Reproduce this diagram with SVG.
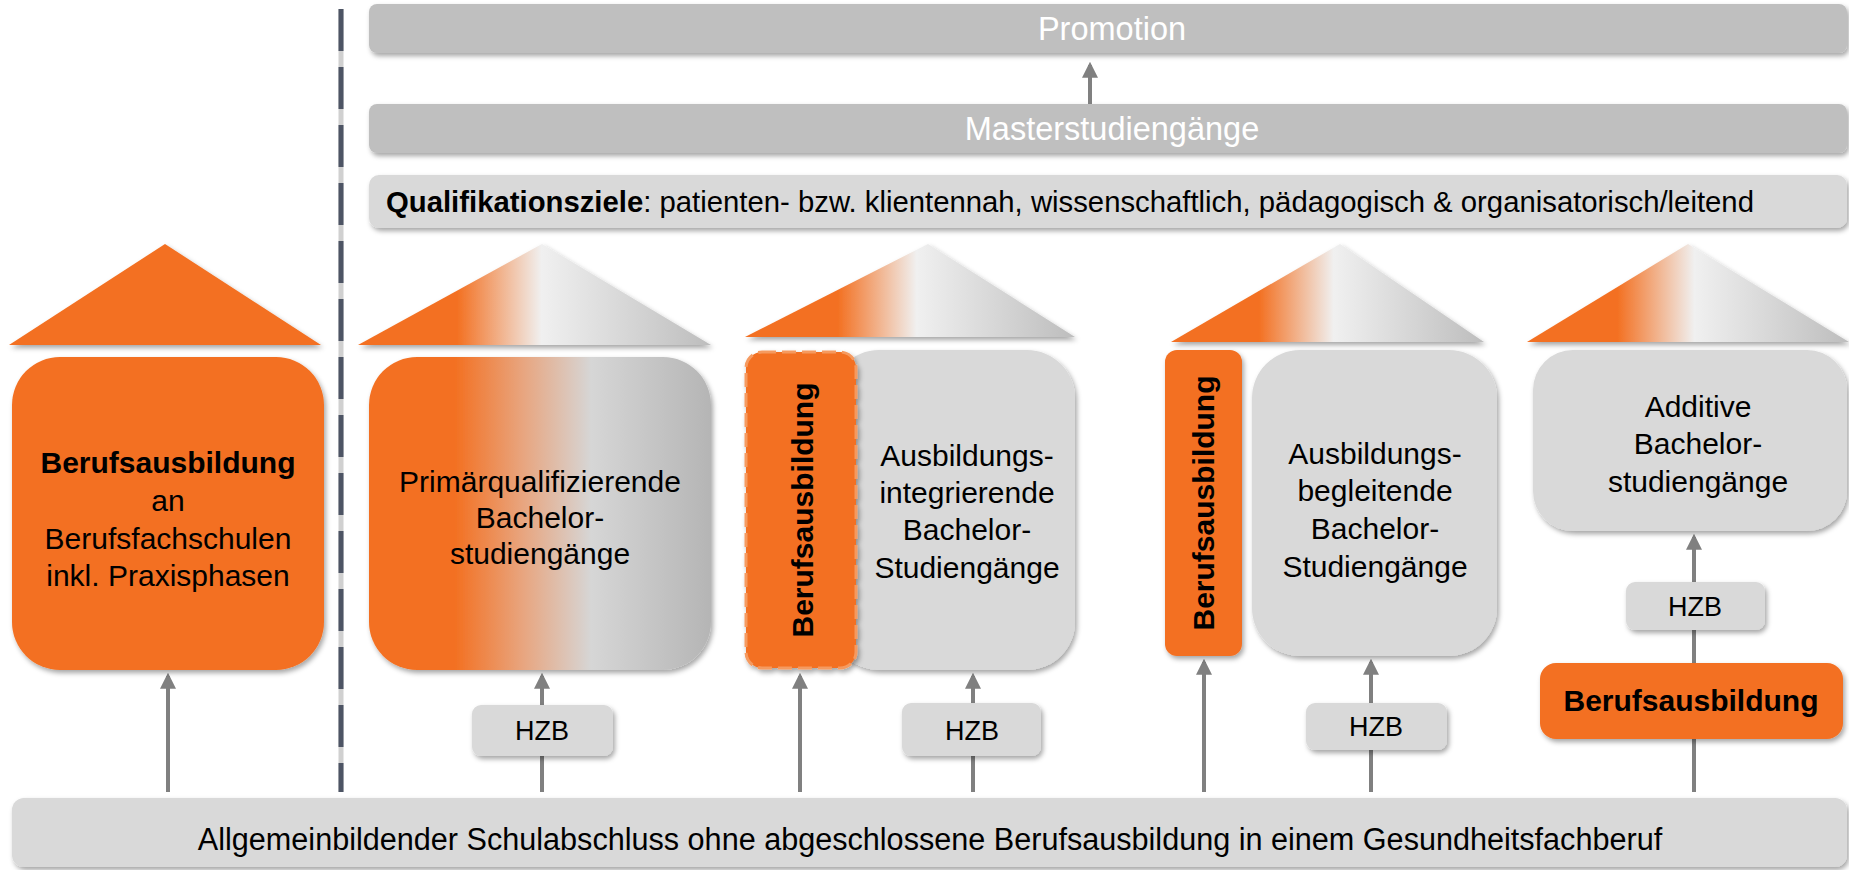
<svg xmlns="http://www.w3.org/2000/svg" width="1849" height="870" viewBox="0 0 1849 870">
<defs>
<style>
text{font-family:"Liberation Sans",Arial,sans-serif;}
.t{font-size:30px;fill:#000;text-anchor:middle;}
.b{font-weight:bold;}
.w{font-size:32.5px;fill:#fff;text-anchor:middle;}
.hzb{font-size:27px;fill:#000;text-anchor:middle;}
.or{fill:#f37021;}
.gr{fill:#d9d9d9;}
.dk{fill:#bfbfbf;}
.arr{stroke:#808080;stroke-width:4;fill:none;marker-end:url(#ah);}
.ln{stroke:#808080;stroke-width:4;fill:none;}
</style>
<filter id="sh" x="-10%" y="-10%" width="120%" height="130%">
<feDropShadow dx="2" dy="3" stdDeviation="2.5" flood-color="#000" flood-opacity="0.35"/>
</filter>
<marker id="ah" markerWidth="4" markerHeight="4" refX="3.2" refY="2" orient="auto" markerUnits="strokeWidth">
<path d="M0,0 L4,2 L0,4 Z" fill="#808080"/>
</marker>
<linearGradient id="tri" x1="0" y1="0" x2="1" y2="0">
<stop offset="0" stop-color="#f37021"/>
<stop offset="0.28" stop-color="#f37021"/>
<stop offset="0.52" stop-color="#f0f0f0"/>
<stop offset="1" stop-color="#bdbdbd"/>
</linearGradient>
<linearGradient id="box2" x1="0" y1="0" x2="1" y2="0">
<stop offset="0" stop-color="#f37021"/>
<stop offset="0.25" stop-color="#f37021"/>
<stop offset="0.45" stop-color="#e8a57f"/>
<stop offset="0.65" stop-color="#d6d6d6"/>
<stop offset="1" stop-color="#b5b5b5"/>
</linearGradient>
</defs>
<rect width="1849" height="870" fill="#fff"/>

<g id="divider">
<line x1="341" y1="9" x2="341" y2="792" stroke="#d0d0d0" stroke-width="5"/>
<line x1="341" y1="9" x2="341" y2="792" stroke="#4d5464" stroke-width="5" stroke-dasharray="42 16"/>
</g>

<g id="promotion">
<rect x="369" y="4" width="1478" height="49" rx="8" class="dk" filter="url(#sh)"/>
<text x="1112" y="40" class="w">Promotion</text>
</g>
<g id="master">
<rect x="369" y="104" width="1478" height="49" rx="8" class="dk" filter="url(#sh)"/>
<text x="1112" y="140" class="w">Masterstudiengänge</text>
</g>
<g id="ziele">
<rect x="369" y="175" width="1478" height="53" rx="10" class="gr" filter="url(#sh)"/>
<text x="386" y="212" style="font-size:29.3px;fill:#000;"><tspan font-weight="bold">Qualifikationsziele</tspan>: patienten- bzw. klientennah, wissenschaftlich, pädagogisch &amp; organisatorisch/leitend</text>
</g>

<g id="roofs">
<polygon points="9,345 165,244 321,345" class="or" filter="url(#sh)"/>
<polygon points="358,345 542,244 711,345" fill="url(#tri)" filter="url(#sh)"/>
<polygon points="745,337 928,244 1075,337" fill="url(#tri)" filter="url(#sh)"/>
<polygon points="1171,342 1340,244 1484,342" fill="url(#tri)" filter="url(#sh)"/>
<polygon points="1527,342 1688,244 1849,342" fill="url(#tri)" filter="url(#sh)"/>
</g>

<g id="base">
<rect x="12" y="798" width="1835" height="69" rx="12" class="gr" filter="url(#sh)"/>
<text x="930" y="850" class="t" style="font-size:30.6px">Allgemeinbildender Schulabschluss ohne abgeschlossene Berufsausbildung in einem Gesundheitsfachberuf</text>
</g>

<g id="connectors">
<line x1="168" y1="792" x2="168" y2="676" class="arr"/>
<line x1="542" y1="792" x2="542" y2="676" class="arr"/>
<line x1="800" y1="792" x2="800" y2="676" class="arr"/>
<line x1="973" y1="792" x2="973" y2="676" class="arr"/>
<line x1="1204" y1="792" x2="1204" y2="662" class="arr"/>
<line x1="1371" y1="792" x2="1371" y2="662" class="arr"/>
<line x1="1694" y1="792" x2="1694" y2="739" class="ln"/>
<line x1="1694" y1="663" x2="1694" y2="537" class="arr"/>
<line x1="1090" y1="104" x2="1090" y2="65" class="arr"/>
</g>

<g id="hzb1">
<rect x="472" y="705" width="141" height="51" rx="9" class="gr" filter="url(#sh)"/>
<text x="542" y="740" class="hzb">HZB</text>
</g>
<g id="hzb2">
<rect x="902" y="703" width="139" height="53" rx="9" class="gr" filter="url(#sh)"/>
<text x="972" y="740" class="hzb">HZB</text>
</g>
<g id="hzb3">
<rect x="1306" y="703" width="141" height="47" rx="9" class="gr" filter="url(#sh)"/>
<text x="1376" y="736" class="hzb">HZB</text>
</g>
<g id="hzb4">
<rect x="1626" y="582" width="139" height="48" rx="9" class="gr" filter="url(#sh)"/>
<text x="1695" y="616" class="hzb">HZB</text>
</g>

<g id="box1">
<rect x="12" y="357" width="312" height="313" rx="48" class="or" filter="url(#sh)"/>
<text class="t"><tspan x="168" y="473" class="b">Berufsausbildung</tspan><tspan x="168" y="511">an</tspan><tspan x="168" y="549">Berufsfachschulen</tspan><tspan x="168" y="586">inkl. Praxisphasen</tspan></text>
</g>

<g id="box2">
<rect x="369" y="357" width="342" height="313" rx="48" fill="url(#box2)" filter="url(#sh)"/>
<text class="t"><tspan x="540" y="492">Primärqualifizierende</tspan><tspan x="540" y="528">Bachelor-</tspan><tspan x="540" y="564">studiengänge</tspan></text>
</g>

<g id="box3">
<rect x="831" y="350" width="244" height="320" rx="48" class="gr" filter="url(#sh)"/>
<text class="t"><tspan x="967" y="466">Ausbildungs-</tspan><tspan x="967" y="503">integrierende</tspan><tspan x="967" y="540">Bachelor-</tspan><tspan x="967" y="578">Studiengänge</tspan></text>
</g>
<g id="box3a">
<rect x="746" y="352" width="110" height="316" rx="16" class="or" stroke="#f59a60" stroke-width="3" stroke-dasharray="14 6" filter="url(#sh)"/>
<text class="t b" transform="translate(813,510) rotate(-90)" x="0" y="0">Berufsausbildung</text>
</g>

<g id="box4a">
<rect x="1165" y="350" width="77" height="306" rx="12" class="or" filter="url(#sh)"/>
<text class="t b" transform="translate(1214,503) rotate(-90)" x="0" y="0">Berufsausbildung</text>
</g>
<g id="box4">
<rect x="1252" y="350" width="245" height="306" rx="48" class="gr" filter="url(#sh)"/>
<text class="t"><tspan x="1375" y="464">Ausbildungs-</tspan><tspan x="1375" y="501">begleitende</tspan><tspan x="1375" y="539">Bachelor-</tspan><tspan x="1375" y="577">Studiengänge</tspan></text>
</g>

<g id="box5">
<rect x="1533" y="350" width="314" height="181" rx="40" class="gr" filter="url(#sh)"/>
<text class="t"><tspan x="1698" y="417">Additive</tspan><tspan x="1698" y="454">Bachelor-</tspan><tspan x="1698" y="492">studiengänge</tspan></text>
</g>
<g id="box5b">
<rect x="1540" y="663" width="303" height="76" rx="16" class="or" filter="url(#sh)"/>
<text x="1691" y="711" class="t b">Berufsausbildung</text>
</g>
</svg>
